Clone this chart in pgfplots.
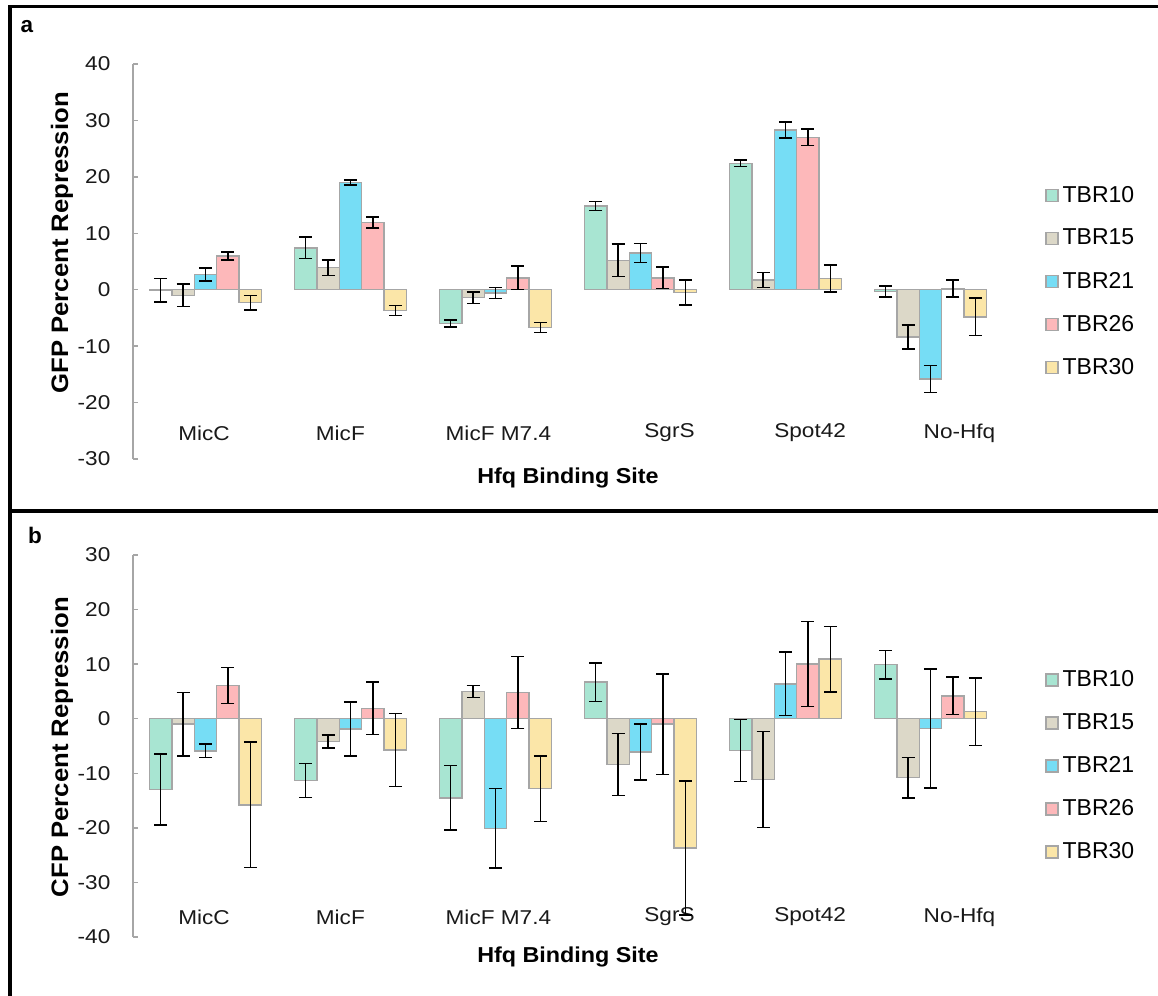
\documentclass[border=0pt]{standalone}
\usepackage{pgfplots}
\pgfplotsset{compat=1.18}
\usepackage{pgfplotstable}
\usepackage{fontspec}
\setmainfont{Liberation Sans}

\definecolor{c10}{HTML}{A8E5D2}
\definecolor{c15}{HTML}{DCD8C8}
\definecolor{c21}{HTML}{76DDF5}
\definecolor{c26}{HTML}{FDB8BA}
\definecolor{c30}{HTML}{FBE6A8}
\definecolor{edge}{HTML}{A6A6A6}

% GFP percent repression: mean (v) and error (e) per construct
\pgfplotstableread{
x  v10   e10   v15   e15   v21    e21   v26   e26   v30   e30
0  -0.1  2.1   -1.0  2.0   2.7    1.15  6.0   0.7   -2.3  1.3
1  7.4   1.9   3.9   1.4   19.0   0.45  11.9  1.0   -3.7  0.9
2  -6.0  0.6   -1.4  1.0   -0.6   1.0   2.1   2.1   -6.7  0.9
3  14.8  0.8   5.2   2.9   6.5    1.7   2.1   1.9   -0.5  2.2
4  22.4  0.6   1.7   1.35  28.3   1.4   27.0  1.45  2.0   2.4
5  -0.3  1.0   -8.4  2.15  -15.8  2.4   0.2   1.5   -4.8  3.3
}\gfptable

% CFP percent repression: mean (v) and error (e) per construct
\pgfplotstableread{
x  v10   e10   v15   e15   v21    e21   v26   e26   v30   e30
0  -13.0 6.5   -1.0  5.8   -5.9   1.25  6.1   3.3   -15.8 11.5
1  -11.3 3.1   -4.2  1.2   -1.9   4.95  1.9   4.8   -5.7  6.7
2  -14.5 5.9   5.0   1.1   -20.1  7.3   4.8   6.6   -12.8 6.0
3  6.7   3.5   -8.4  5.7   -6.1   5.1   -1.0  9.2   -23.7 12.3
4  -5.8  5.7   -11.1 8.8   6.4    5.8   10.0  7.8   10.9  6.0
5  9.9   2.6   -10.8 3.7   -1.8   10.9  4.2   3.4   1.3   6.2
}\cfptable

\pgfplotsset{
  panel/.style={
    scale only axis, width=435pt,
    ybar=0pt, bar width=0.155,
    xmin=-0.5, xmax=5.5,
    axis lines*=left,
    x axis line style={draw=none},
    y axis line style={edge, line width=0.75pt},
    xtick={-0.01,0.93,2.02,3.2,4.17,5.2},
    xticklabels={MicC,MicF,MicF M7.4,SgrS,Spot42,No-Hfq},
    xtick style={draw=none},
    ytick style={edge, line width=0.75pt},
    tick align=inside, major tick length=2.5pt,
    /pgf/number format/assume math mode=true,
    tick label style={font=\fontsize{10}{11}\selectfont, text=black!90, xscale=1.13},
    yticklabel style={xshift=-6.5pt},
    xlabel={\textbf{Hfq Binding Site}},
    xlabel style={font=\fontsize{10.8}{13}\selectfont, xscale=1.08,
      at={(axis description cs:0.5,0)}, anchor=center},
    every axis y label/.style={font=\fontsize{11.9}{14}\selectfont, rotate=90, xscale=1.08, anchor=center},
    legend cell align=left,
    legend image code/.code={\draw[##1, line width=0.75pt] (0pt,-3pt) rectangle (6pt,3pt);},
    legend style={draw=none, fill=none, anchor=west, inner sep=0pt,
      font=\fontsize{11.5}{13}\selectfont, row sep=8pt},
    clip=false,
  },
  ser/.style={fill=#1, draw=edge, line width=0.75pt,
    error bars/.cd, y dir=both, y explicit,
    error bar style={black, line width=0.75pt},
    error mark options={rotate=90, black, line width=0.75pt, mark size=3.25pt}},
}

\begin{document}
\begin{tikzpicture}
\useasboundingbox (0,0) rectangle (579pt,498pt);
% panel frame
\draw[line width=1.65pt] (5pt,-2pt) -- (5pt,494.65pt) -- (582pt,494.65pt);
\draw[line width=1.65pt] (5pt,242.5pt) -- (582pt,242.5pt);
\node[font=\fontsize{11.25}{13}\selectfont\bfseries] at (13.5pt,484.5pt) {a};
\node[font=\fontsize{11.25}{13}\selectfont\bfseries] at (17.5pt,230.5pt) {b};

\begin{axis}[panel, at={(66.5pt,268.5pt)}, anchor=south west, height=197.5pt,
  ymin=-30, ymax=40, ytick={-30,-20,...,40},
  xticklabel style={anchor=center, yshift=13pt},
  xlabel style={yshift=-9.5pt},
  ylabel={\textbf{GFP Percent Repression}},
  ylabel style={at={(axis description cs:-0.0816,0.547)}},
  legend style={at={(1.048,0.449)}},
]
\addplot[ser=c10] table[x=x, y=v10, y error=e10]{\gfptable};
\addplot[ser=c15] table[x=x, y=v15, y error=e15]{\gfptable};
\addplot[ser=c21] table[x=x, y=v21, y error=e21]{\gfptable};
\addplot[ser=c26] table[x=x, y=v26, y error=e26]{\gfptable};
\addplot[ser=c30] table[x=x, y=v30, y error=e30]{\gfptable};
\legend{TBR10,TBR15,TBR21,TBR26,TBR30}
\end{axis}

\begin{axis}[panel, at={(66.5pt,29.5pt)}, anchor=south west, height=191pt,
  ymin=-40, ymax=30, ytick={-40,-30,...,30},
  xticklabel style={anchor=center, yshift=10pt},
  xlabel style={yshift=-10pt},
  ylabel={\textbf{CFP Percent Repression}},
  ylabel style={at={(axis description cs:-0.0816,0.497)}},
  legend style={at={(1.048,0.448)}},
]
\addplot[ser=c10] table[x=x, y=v10, y error=e10]{\cfptable};
\addplot[ser=c15] table[x=x, y=v15, y error=e15]{\cfptable};
\addplot[ser=c21] table[x=x, y=v21, y error=e21]{\cfptable};
\addplot[ser=c26] table[x=x, y=v26, y error=e26]{\cfptable};
\addplot[ser=c30] table[x=x, y=v30, y error=e30]{\cfptable};
\legend{TBR10,TBR15,TBR21,TBR26,TBR30}
\end{axis}
\end{tikzpicture}
\end{document}
